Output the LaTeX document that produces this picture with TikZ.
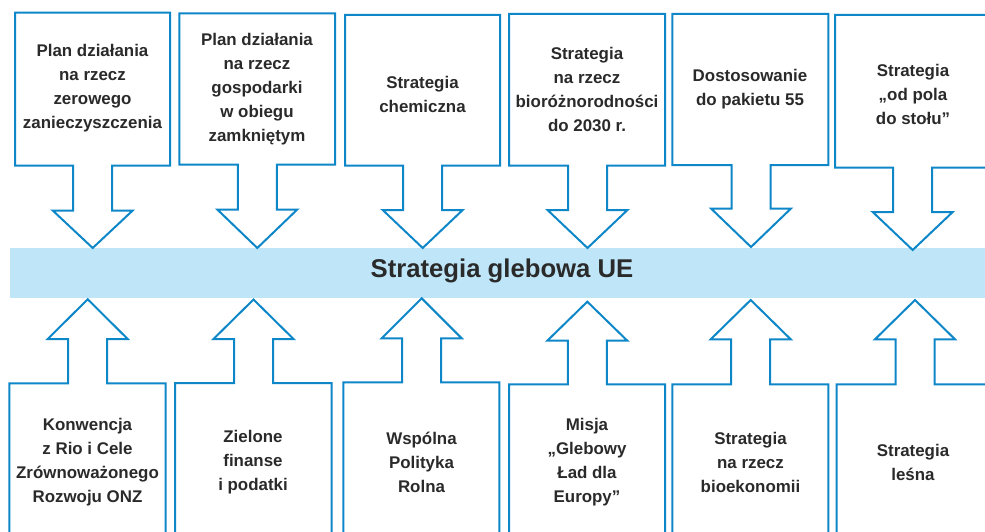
\documentclass[tikz,border=0pt]{standalone}
\usepackage{fontspec}
\setmainfont{Liberation Sans}
\definecolor{linkblue}{HTML}{0E87C8}
\definecolor{bandblue}{HTML}{BEE6F8}
\definecolor{txt}{HTML}{2A2A2A}
\tikzset{
  boxline/.style={draw=linkblue, line width=2pt, line join=miter, fill=white},
  lbl/.style={align=center, inner sep=0pt, text=txt, font=\bfseries\fontsize{16.9}{24}\selectfont},
  titlelbl/.style={inner sep=0pt, text=txt, font=\bfseries\fontsize{25.7}{30}\selectfont},
  bandbox/.style={fill=bandblue, draw=none, inner sep=0pt, minimum width=985pt, minimum height=50pt, anchor=north west}
}
% down-pointing box arrow: L, R, top, bottom, cx, wingy, tipy
\newcommand\dnbox[7]{%
  \draw[boxline] (#1,#3) -- (#2,#3) -- (#2,#4) -- ({#5+19.5},#4) -- ({#5+19.5},#6)
    -- ({#5+40},#6) -- (#5,#7) -- ({#5-40},#6) -- ({#5-19.5},#6) -- ({#5-19.5},#4)
    -- (#1,#4) -- cycle;}
% up-pointing box arrow: L, R, top, cx, wingy, tipy
\newcommand\upbox[6]{%
  \draw[boxline] (#1,560) -- (#1,#3) -- ({#4-19.5},#3) -- ({#4-19.5},#5) -- ({#4-40},#5)
    -- (#4,#6) -- ({#4+40},#5) -- ({#4+19.5},#5) -- ({#4+19.5},#3) -- (#2,#3) -- (#2,560);}
\begin{document}
\begin{tikzpicture}[x=1pt,y=-1pt]
\useasboundingbox (0,0) rectangle (985,532);
\clip (0,0) rectangle (985,532);
\fill[white] (0,0) rectangle (985,532);

\node[bandbox] (band) at (10,247.5) {};
\node[titlelbl] (title) at (502,271) {Strategia glebowa UE};

% top row
\dnbox{15}{170}{12.7}{165.7}{92.7}{210.5}{248}
\dnbox{179.3}{335}{13.3}{164.5}{257.3}{209.5}{248}
\dnbox{345}{500}{15}{165.7}{422.7}{210}{248}
\dnbox{509}{665}{14}{165.7}{587.5}{210}{248}
\dnbox{672.3}{828.3}{14}{165}{751}{208.5}{247}
\dnbox{835}{1000}{15}{167.7}{912.7}{212}{250}

\node[lbl] (t1) at (92.5,88) {Plan działania\\na rzecz\\zerowego\\zanieczyszczenia};
\node[lbl] (t2) at (257,89) {Plan działania\\na rzecz\\gospodarki\\w obiegu\\zamkniętym};
\node[lbl] (t3) at (422.5,94) {Strategia\\chemiczna};
\node[lbl] (t4) at (587,89.5) {Strategia\\na rzecz\\bioróżnorodności\\do 2030 r.};
\node[lbl] (t5) at (750,89) {Dostosowanie\\do pakietu 55};
\node[lbl] (t6) at (913,94) {Strategia\\„od pola\\do stołu”};

% bottom row
\upbox{9.3}{165.7}{383.3}{87.7}{339}{299.3}
\upbox{175}{331.7}{383}{253.5}{339}{299.5}
\upbox{343.3}{499.3}{382.3}{421.7}{338.3}{298.3}
\upbox{509}{665}{384.3}{587.3}{340.7}{301.7}
\upbox{672.3}{828.3}{384.3}{750.7}{339.3}{300}
\upbox{836.7}{1000}{384.3}{915}{339.3}{300}

\node[lbl] (b1) at (87.5,462) {Konwencja\\z Rio i Cele\\Zrównoważonego\\Rozwoju ONZ};
\node[lbl] (b2) at (253,462) {Zielone\\finanse\\i podatki};
\node[lbl] (b3) at (421.5,462) {Wspólna\\Polityka\\Rolna};
\node[lbl] (b4) at (587,462) {Misja\\„Glebowy\\Ład dla\\Europy”};
\node[lbl] (b5) at (750.5,462) {Strategia\\na rzecz\\bioekonomii};
\node[lbl] (b6) at (913,462) {Strategia\\leśna};
\end{tikzpicture}
\end{document}
